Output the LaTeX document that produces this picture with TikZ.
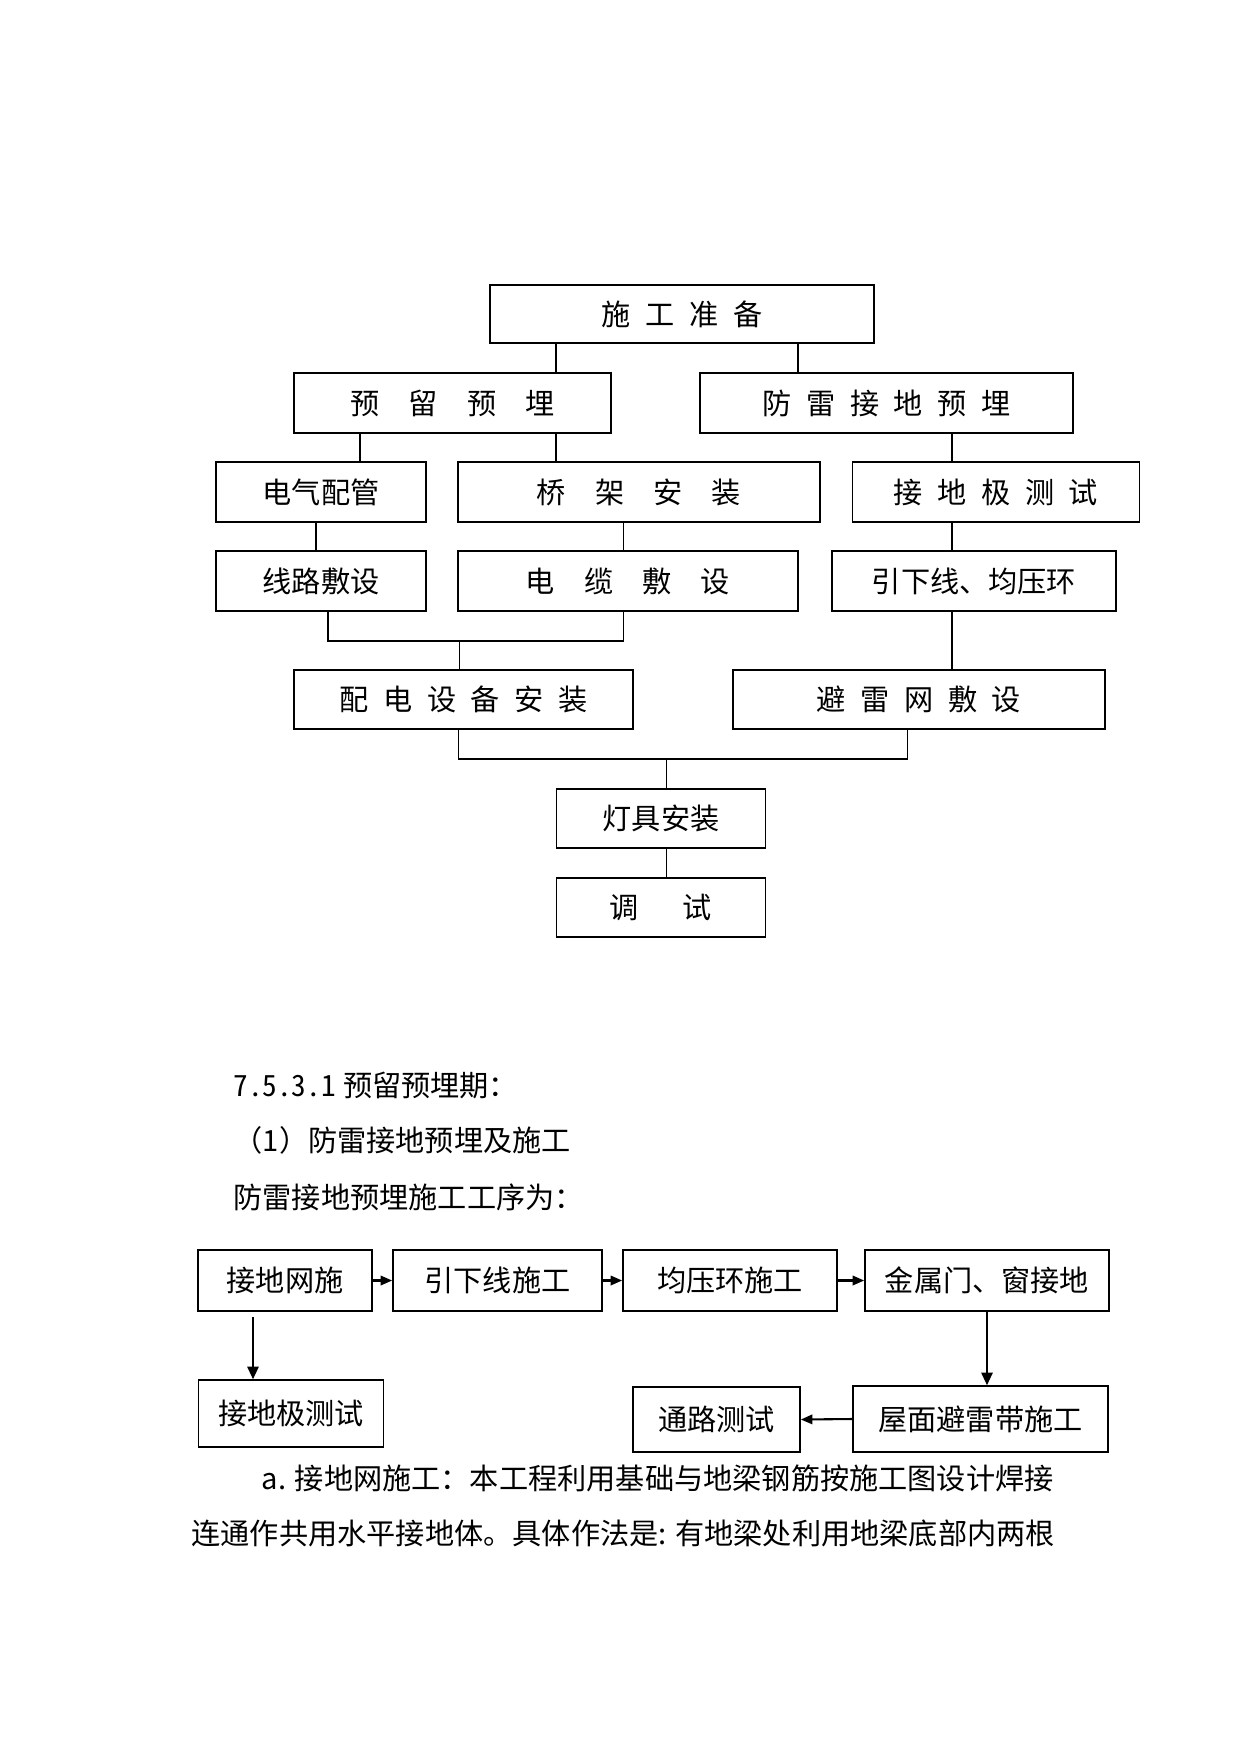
\documentclass[tikz,border=0pt]{standalone}
\usepackage{fontspec}
\newfontfamily\cjk{Noto Sans CJK SC}
\usepackage{tikz}
\usetikzlibrary{arrows.meta}
\newlength\pxu
\setlength\pxu{0.4797pt}
\tikzset{
  every picture/.style={line width=0.6pt},
  stepbox/.style={
    draw,
    line width=0.8pt,
    inner sep=0pt,
    font=\cjk\fontsize{14pt}{16pt}\selectfont
  },
  boxsize/.style 2 args={minimum width=#1\pxu, minimum height=#2\pxu},
  link/.style={draw, line width=0.6pt},
  flowarrow/.style={-{Triangle[length=5.5pt,width=4.5pt]}, line width=1pt},
  downarrow/.style={-{Triangle[length=6pt,width=5.5pt]}, line width=0.6pt},
  bodytext/.style={anchor=west, inner sep=0pt, font=\cjk\fontsize{14pt}{16pt}\selectfont}
}

\begin{document}
\begin{tikzpicture}[x=0.4797pt, y=-0.4797pt]
  \path[use as bounding box, fill=white] (0,0) rectangle (1241,1754);

  % upper flow chart
  \node[stepbox, boxsize={384}{58}] (zhunbei) at (682,314) {施\enskip 工\enskip 准\enskip 备};
  \node[stepbox, boxsize={317}{60}] (yuliu) at (452.5,403) {预\quad 留\quad 预\quad 埋};
  \node[stepbox, boxsize={373}{60}] (fanglei) at (886.5,403) {防\enskip 雷\enskip 接\enskip 地\enskip 预\enskip 埋};
  \node[stepbox, boxsize={210}{60}] (peiguan) at (321,492) {电气配管};
  \node[stepbox, boxsize={362}{60}] (qiaojia) at (639,492) {桥\quad 架\quad 安\quad 装};
  \node[stepbox, boxsize={287}{60}] (jiediji) at (996,492) {接\enskip 地\enskip 极\enskip 测\enskip 试};
  \node[stepbox, boxsize={210}{60}] (xianlu) at (321,581) {线路敷设};
  \node[stepbox, boxsize={340}{60}] (dianlan) at (628,581) {电\quad 缆\quad 敷\quad 设};
  \node[stepbox, boxsize={284}{60}] (yinxia) at (974,581) {引下线、均压环};
  \node[stepbox, boxsize={339}{59}] (peidian) at (463.5,699.5) {配\enskip 电\enskip 设\enskip 备\enskip 安\enskip 装};
  \node[stepbox, boxsize={372}{59}] (bileiwang) at (919,699.5) {避\enskip 雷\enskip 网\enskip 敷\enskip 设};
  \node[stepbox, boxsize={209}{59}] (dengju) at (661,818.5) {灯具安装};
  \node[stepbox, boxsize={209}{59}] (tiaoshi) at (661,907.5) {调\quad\enskip 试};

  \coordinate (bus1) at (459.5,641);
  \coordinate (bus2) at (666.5,759);

  \draw[link] (556,0 |- zhunbei.south) -- (556,0 |- yuliu.north);
  \draw[link] (798,0 |- zhunbei.south) -- (798,0 |- fanglei.north);
  \draw[link] (360,0 |- yuliu.south) -- (360,0 |- peiguan.north);
  \draw[link] (556,0 |- yuliu.south) -- (556,0 |- qiaojia.north);
  \draw[link] (952,0 |- fanglei.south) -- (952,0 |- jiediji.north);
  \draw[link] (316,0 |- peiguan.south) -- (316,0 |- xianlu.north);
  \draw[link] (623.5,0 |- qiaojia.south) -- (623.5,0 |- dianlan.north);
  \draw[link] (952,0 |- jiediji.south) -- (952,0 |- yinxia.north);
  \draw[link] (328,0 |- xianlu.south) |- (bus1) -| (623.5,0 |- dianlan.south);
  \draw[link] (bus1) -- (bus1 |- peidian.north);
  \draw[link] (952,0 |- yinxia.south) -- (952,0 |- bileiwang.north);
  \draw[link] (458.2,0 |- peidian.south) |- (bus2) -| (907.8,0 |- bileiwang.south);
  \draw[link] (bus2) -- (bus2 |- dengju.north);
  \draw[link] (bus2 |- dengju.south) -- (bus2 |- tiaoshi.north);

  % text
  \node[bodytext] (title) at (233,1085) {{\addfontfeature{CharacterWidth=Half}7.5.3.1}\hspace{0.25em}预留预埋期：};
  \node[bodytext] (item) at (233,1140) {（1）防雷接地预埋及施工};
  \node[bodytext] (intro) at (233,1197) {防雷接地预埋施工工序为：};

  % lower flow chart
  \node[stepbox, boxsize={174}{61}] (wangshi) at (285,1280.5) {接地网施};
  \node[stepbox, boxsize={209}{61}] (yinxiashi) at (497.5,1280.5) {引下线施工};
  \node[stepbox, boxsize={214}{61}] (junya) at (730,1280.5) {均压环施工};
  \node[stepbox, boxsize={244}{61}] (jinshu) at (987,1280.5) {金属门、窗接地};
  \node[stepbox, boxsize={185}{67}] (jiceshi) at (291,1413.5) {接地极测试};
  \node[stepbox, boxsize={167}{65}] (tonglu) at (716.5,1419.5) {通路测试};
  \node[stepbox, boxsize={255}{66}] (wumian) at (980.5,1419) {屋面避雷带施工};

  \draw[flowarrow] (wangshi) -- (yinxiashi);
  \draw[flowarrow] (yinxiashi) -- (junya);
  \draw[flowarrow] (junya) -- (jinshu);
  \draw[downarrow, shorten <=2.4pt] (253,0 |- wangshi.south) -- (253,0 |- jiceshi.north);
  \draw[downarrow] (jinshu.south) -- (jinshu.south |- wumian.north);
  \draw[flowarrow] (wumian.west) -- (tonglu.east);

  \node[bodytext] (para1) at (261,1478) {a. 接地网施工：本工程利用基础与地梁钢筋按施工图设计焊接};
  \node[bodytext] (para2) at (191,1533) {连通作共用水平接地体。具体作法是: 有地梁处利用地梁底部内两根};
\end{tikzpicture}
\end{document}
